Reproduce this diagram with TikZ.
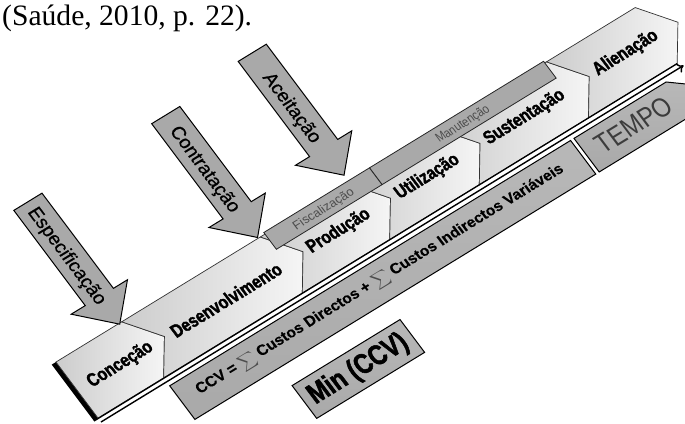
\documentclass[tikz,border=0pt]{standalone}
\usepackage{amsmath}
\usepackage{fontspec}
\setmainfont{Liberation Sans}
\newfontfamily\citefont{Liberation Serif}
\newfontfamily\condbold{Liberation Sans Bold}[FakeStretch=0.8, FakeBold=1.8]
\newfontfamily\boldsans{Liberation Sans Bold}[FakeBold=0.4]
\newfontfamily\condreg{Liberation Sans}[FakeStretch=0.84]
\newfontfamily\medsans{Liberation Sans}[FakeBold=0.7]
\usetikzlibrary{arrows.meta}

\definecolor{boxlight}{HTML}{F5F5F5}
\definecolor{boxdark}{HTML}{CCCCCC}
\definecolor{barfill}{HTML}{A9A9A9}
\definecolor{barlight}{HTML}{B8B8B8}
\definecolor{edgegray}{HTML}{333333}
\definecolor{labelgray}{HTML}{4D4D4D}
\definecolor{tempogray}{HTML}{3C3C3C}

\tikzset{
  phasebox/.style={left color=boxdark, right color=boxlight, draw=edgegray,
    line width=0.7pt, line join=miter},
  phaselabel/.style={transform shape, inner sep=0pt,
    font=\condbold\fontsize{19}{19}\selectfont},
  activitybar/.style={fill=barfill, draw=black!85, line width=0.8pt},
  activitylabel/.style={transform shape, inner sep=0pt, text=labelgray},
  costbar/.style={top color=barlight, bottom color=barfill, draw=black,
    line width=1pt, line join=miter},
  milestone/.style={fill=barfill, draw=black, line width=1pt, line join=miter},
  milestonelabel/.style={transform shape, rotate=-90, inner sep=0pt,
    font=\medsans\fontsize{19}{19}\selectfont},
  timeaxis/.style={line width=1.4pt, -{To[length=6pt,width=10pt]}},
}
\newcommand{\sigmasign}{{\color{labelgray}\fontsize{13}{13}\selectfont$\displaystyle\sum$}}

\begin{document}
\begin{tikzpicture}[x=1pt,y=1pt]
\useasboundingbox (0,0) rectangle (685,-423);
\clip (0,0) rectangle (685,-423);

% source reference
\node[anchor=base west, inner sep=0pt,
  font=\citefont\fontsize{29.6}{30}\selectfont] (source) at (2,-25)
  {(Saúde, 2010, p. 22).};

% everything else lies in the slanted frame of the life-cycle band
\begin{scope}[cm={0.853,0.522,-0.6,0.8,(98,-418)}]

  % dark edge at the start of the band
  \fill[black] (-5,-0.5) -- (0,0) -- (0,70) -- (-5,70) -- cycle;

  % phases
  \draw[phasebox] (0,0) -- (77,0) -- (102.5,35) -- (77,70) -- (0,70) -- cycle;
  \draw[phasebox] (77,0) -- (239.5,0) -- (265,35) -- (239.5,70) -- (77,70) -- (102.5,35) -- cycle;
  \draw[phasebox] (239.5,0) -- (342,0) -- (367.5,35) -- (342,70) -- (239.5,70) -- (265,35) -- cycle;
  \draw[phasebox] (342,0) -- (447,0) -- (472.5,35) -- (447,70) -- (342,70) -- (367.5,35) -- cycle;
  \draw[phasebox] (447,0) -- (575,0) -- (600.5,35) -- (575,70) -- (447,70) -- (472.5,35) -- cycle;
  \draw[phasebox] (575,0) -- (679,0) -- (704.5,35) -- (679,70) -- (575,70) -- (600.5,35) -- cycle;
  \draw[line width=1.3pt] (-5,-0.5) -- (679,0);

  \node[phaselabel] (concecao) at (50,34) {Conceção};
  \node[phaselabel] (desenv) at (174,34) {Desenvolvimento};
  \node[phaselabel] (producao) at (306,34) {Produção};
  \node[phaselabel] (utilizacao) at (410,34) {Utilização};
  \node[phaselabel] (sustentacao) at (524,34) {Sustentação};
  \node[phaselabel] (alienacao) at (644,36) {Alienação};

  % activity bars over the band
  \draw[activitybar] (245,51) rectangle (369,72);
  \draw[activitybar] (369,51) rectangle (573,72);
  \node[activitylabel, font=\fontsize{12.5}{12.5}\selectfont] (fiscal) at (307,60) {Fiscalização};
  \node[activitylabel, font=\condreg\fontsize{13}{13}\selectfont] (manut) at (470,60) {Manutenção};

  % milestones
  \draw[milestone, shift={(74,69)}] (0,0) -- (33,34) -- (16.5,34) -- (16.5,153)
    -- (-16.5,153) -- (-16.5,34) -- (-33,34) -- cycle;
  \draw[milestone, shift={(237,71)}] (0,0) -- (33,34) -- (16.5,34) -- (16.5,153)
    -- (-16.5,153) -- (-16.5,34) -- (-33,34) -- cycle;
  \draw[milestone, shift={(344,79)}] (0,0) -- (33,34) -- (16.5,34) -- (16.5,153)
    -- (-16.5,153) -- (-16.5,34) -- (-33,34) -- cycle;
  \node[milestonelabel] (espec) at (72,155) {Especificação};
  \node[milestonelabel] (contrat) at (235,157) {Contratação};
  \node[milestonelabel] (aceit) at (342,164) {Aceitação};

  % time axis
  \coordinate (axisstart) at (0,-5);
  \coordinate (axisend) at (683,-5);
  \draw[timeaxis] (axisstart) -- (axisend);

  % cost bars
  \draw[costbar] (77,-10) rectangle (547,-52);
  \draw[costbar] (551,-10) -- (659,-10) -- (684.5,-31) -- (659,-52) -- (551,-52) -- cycle;
  \draw[costbar] (175.5,-74) rectangle (302,-115);

  \node[transform shape, inner sep=0pt, font=\boldsans\fontsize{15.3}{16}\selectfont]
    (ccv) at (310,-30)
    {CCV = \sigmasign{} Custos Directos + \sigmasign{} Custos Indirectos Variáveis};
  \node[transform shape, inner sep=0pt, text=tempogray,
    font=\condreg\fontsize{28}{28}\selectfont] (tempo) at (607,-30) {TEMPO};
  \node[transform shape, inner sep=0pt,
    font=\condbold\fontsize{29}{29}\selectfont] (mincc) at (238.5,-95) {Min (CCV)};
\end{scope}
\end{tikzpicture}
\end{document}
